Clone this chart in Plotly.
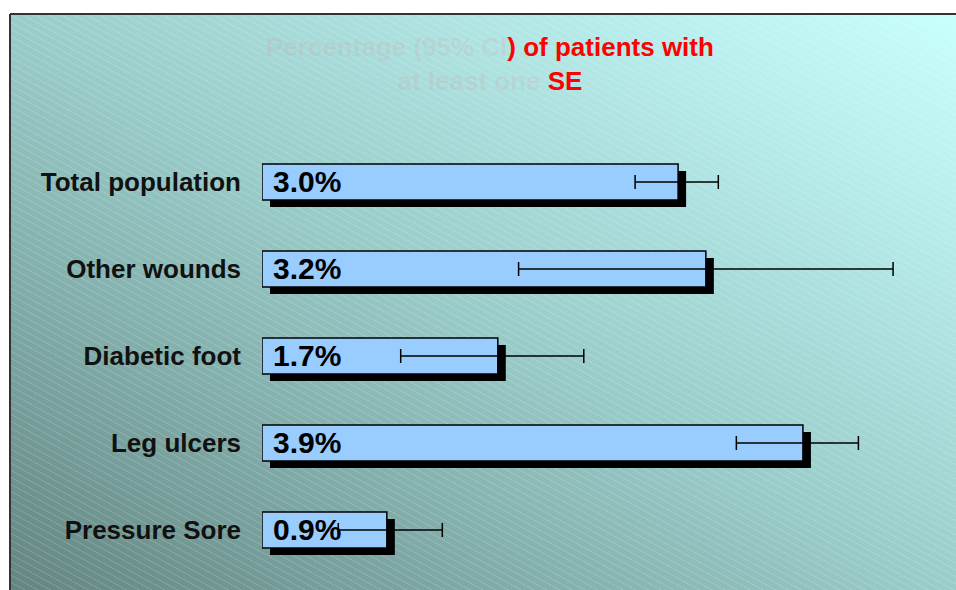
import base64
import struct
import zlib

import numpy as np
import plotly.graph_objects as go

# ---- data -------------------------------------------------------------
categories = ["Pressure Sore", "Leg ulcers", "Diabetic foot", "Other wounds", "Total population"]
percent = [0.9, 3.9, 1.7, 3.2, 3.0]
ci_low = [0.55, 3.42, 1.0, 1.85, 2.69]
ci_high = [1.30, 4.30, 2.32, 4.55, 3.29]

# ---- page geometry ----------------------------------------------------
W, H = 956, 590
ML, MT = 10, 14                      # frame starts here
PW, PH = W - ML, H - MT              # frame size in px
BAR_X0 = 262                         # pixel where 0 % sits
PX_PER_UNIT = 138.7
ROW_TOP, ROW_STEP = 182, 87          # centre of top row, row spacing

positions = list(range(len(categories)))
err_plus = [h - v for h, v in zip(ci_high, percent)]
err_minus = [v - l for l, v in zip(ci_low, percent)]


# ---- background: diagonal gradient with fine white hatching -----------
def png_data_uri(rgb):
    h, w, _ = rgb.shape
    raw = b"".join(b"\x00" + rgb[r].tobytes() for r in range(h))

    def chunk(tag, data):
        c = struct.pack(">I", len(data)) + tag + data
        return c + struct.pack(">I", zlib.crc32(tag + data) & 0xFFFFFFFF)

    png = (b"\x89PNG\r\n\x1a\n"
           + chunk(b"IHDR", struct.pack(">IIBBBBB", w, h, 8, 2, 0, 0, 0))
           + chunk(b"IDAT", zlib.compress(raw, 9))
           + chunk(b"IEND", b""))
    return "data:image/png;base64," + base64.b64encode(png).decode()


yy, xx = np.mgrid[0:PH, 0:PW].astype(float)
t = ((xx / PW) + (1 - yy / PH)) / 2.0
c0 = np.array([100, 134, 130], float)
c1 = np.array([155, 206, 203], float)
c2 = np.array([200, 255, 255], float)
tt = t[..., None]
col = np.where(tt < 0.5, c0 + (c1 - c0) * (tt / 0.5), c1 + (c2 - c1) * ((tt - 0.5) / 0.5))
phase = np.mod(yy - 0.55 * xx, 7.0)
stripe = np.clip(1.0 - np.abs(phase - 0.5), 0, 1) * 0.2
col = col + (255 - col) * stripe[..., None]
bg_uri = png_data_uri(np.clip(col, 0, 255).astype(np.uint8))

# ---- axis ranges derived from the pixel layout ------------------------
x_dom0 = (BAR_X0 - ML) / PW
x_max = (W - BAR_X0) / PX_PER_UNIT
top_pos = positions[-1]
y_hi = top_pos + (ROW_TOP - MT) / ROW_STEP
y_lo = top_pos - (H - ROW_TOP) / ROW_STEP

shadow_dx = 8 / PX_PER_UNIT
shadow_dy = 7 / ROW_STEP
bar_w = 36 / ROW_STEP

fig = go.Figure()

# drop shadow behind each bar
fig.add_trace(go.Bar(
    x=percent, y=[p - shadow_dy for p in positions], base=shadow_dx,
    orientation="h", width=bar_w,
    marker=dict(color="black", line=dict(width=0)),
    hoverinfo="skip", showlegend=False,
))

# main bars with 95% CI error bars
fig.add_trace(go.Bar(
    x=percent, y=positions, orientation="h", width=bar_w,
    marker=dict(color="#99ccff", line=dict(color="black", width=1.5)),
    error_x=dict(type="data", symmetric=False, array=err_plus, arrayminus=err_minus,
                 color="black", thickness=1.5, width=7),
    showlegend=False,
))

# value labels inside the bars
for p, v in zip(positions, percent):
    fig.add_annotation(
        x=0, y=p, xref="x", yref="y", text=f"<b>{v:.1f}%</b>",
        showarrow=False, xanchor="left", yanchor="middle", xshift=9, yshift=1,
        font=dict(family="Liberation Sans, Arial", size=30, color="black"),
    )

faint = "color:rgba(255,90,90,0.10)"
fig.add_annotation(
    x=(490 - ML) / PW, y=1 - (64 - MT) / PH, xref="paper", yref="paper",
    text=(f"<b><span style='{faint}'>Percentage (95% CI</span>) of patients with<br>"
          f"<span style='{faint}'>at least one </span>SE</b>"),
    showarrow=False, xanchor="center", yanchor="middle",
    font=dict(family="Liberation Sans, Arial", size=26, color="#ff0000"),
)

fig.update_layout(
    width=W, height=H,
    margin=dict(l=ML, r=0, t=MT, b=0),
    paper_bgcolor="white", plot_bgcolor="rgba(0,0,0,0)",
    barmode="overlay",
    xaxis=dict(domain=[x_dom0, 1], range=[0, x_max], visible=False, fixedrange=True),
    yaxis=dict(range=[y_lo, y_hi], tickvals=positions,
               ticktext=[f"<b>{c}</b>" for c in categories],
               showgrid=False, zeroline=False, showline=False, ticks="",
               ticklabelstandoff=20,
               tickfont=dict(family="Liberation Sans, Arial", size=26, color="#111111"),
               fixedrange=True),
    images=[dict(source=bg_uri, xref="paper", yref="paper", x=0, y=1,
                 sizex=1, sizey=1, sizing="stretch", layer="below",
                 xanchor="left", yanchor="top")],
    shapes=[
        dict(type="line", xref="paper", yref="paper", x0=0, x1=1, y0=1, y1=1,
             line=dict(color="#333333", width=2)),
        dict(type="line", xref="paper", yref="paper", x0=0, x1=0, y0=0, y1=1,
             line=dict(color="#333333", width=2)),
    ],
)

fig.write_html("out.html")
